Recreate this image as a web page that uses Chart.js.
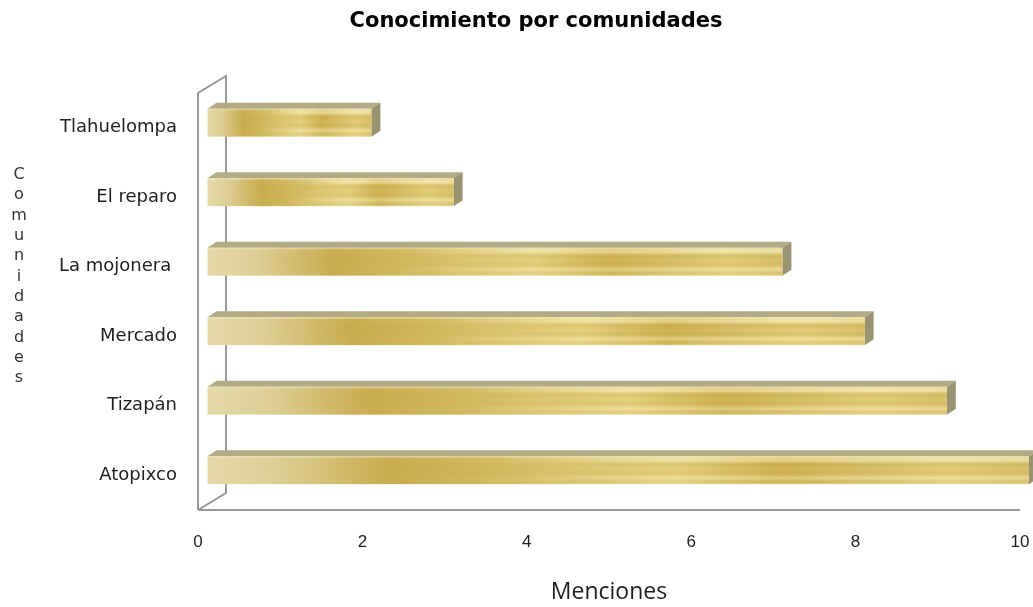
<!DOCTYPE html>
<html>
<head>
<meta charset="utf-8">
<script src="https://cdn.jsdelivr.net/npm/chart.js@4/dist/chart.umd.min.js"></script>
<style>
  html, body { margin: 0; padding: 0; background: #ffffff; }
  #wrap { width: 1033px; height: 607px; }
</style>
</head>
<body>
<div id="wrap"><canvas id="c" width="1033" height="607"></canvas></div>
<script>
// Chart data
const communities = ['Tlahuelompa', 'El reparo', 'La mojonera ', 'Mercado', 'Tizapán', 'Atopixco'];
const mentions = [2, 3, 7, 8, 9, 10];
const valueTicks = [0, 2, 4, 6, 8, 10];
const chartTitle = 'Conocimiento por comunidades';
const valueAxisTitle = 'Menciones';
const categoryAxisTitle = 'Comunidades';

// 3D look: wall depth, bar depth and bar offset from the front plane
const WALL_DX = 28, WALL_DY = 17;
const BAR_SHIFT_X = 9, BAR_SHIFT_Y = 5;
const BAR_DX = 9, BAR_DY = 6;

const TEXT_COLOR = '#1e1e1e';
const LABEL_FONT = '"DejaVu Sans", "Liberation Sans", sans-serif';

function goldFront(ctx, left, top, w, h) {
  // base horizontal sheen across the bar
  const g = ctx.createLinearGradient(left, 0, left + w, 0);
  g.addColorStop(0.00, '#e4d9a8');
  g.addColorStop(0.08, '#ddcf97');
  g.addColorStop(0.22, '#c9ac4e');
  g.addColorStop(0.35, '#d2ba60');
  g.addColorStop(0.50, '#e0cd7e');
  g.addColorStop(0.57, '#e7d88d');
  g.addColorStop(0.70, '#ceb153');
  g.addColorStop(0.80, '#d9c372');
  g.addColorStop(0.90, '#e6d68a');
  g.addColorStop(1.00, '#dbc577');
  ctx.fillStyle = g;
  ctx.fillRect(left, top, w, h);

  // horizontal streaks that fade in toward the right end
  const W = Math.max(1, Math.round(w)), H = Math.max(1, Math.round(h));
  const off = document.createElement('canvas');
  off.width = W; off.height = H;
  const o = off.getContext('2d');
  const v = o.createLinearGradient(0, 0, 0, H);
  v.addColorStop(0.00, 'rgba(250,240,190,0.30)');
  v.addColorStop(0.14, 'rgba(255,248,205,0.55)');
  v.addColorStop(0.28, 'rgba(196,164,64,0.45)');
  v.addColorStop(0.45, 'rgba(214,186,86,0.30)');
  v.addColorStop(0.60, 'rgba(196,164,64,0.40)');
  v.addColorStop(0.78, 'rgba(250,240,185,0.50)');
  v.addColorStop(0.92, 'rgba(205,176,80,0.30)');
  v.addColorStop(1.00, 'rgba(245,235,180,0.40)');
  o.fillStyle = v;
  o.fillRect(0, 0, W, H);
  o.globalCompositeOperation = 'destination-in';
  const m = o.createLinearGradient(0, 0, W, 0);
  m.addColorStop(0.00, 'rgba(0,0,0,0)');
  m.addColorStop(0.35, 'rgba(0,0,0,0.1)');
  m.addColorStop(0.60, 'rgba(0,0,0,0.9)');
  m.addColorStop(1.00, 'rgba(0,0,0,1)');
  o.fillStyle = m;
  o.fillRect(0, 0, W, H);
  ctx.drawImage(off, left, top, w, h);

  // soft light rim along the top edge
  ctx.fillStyle = 'rgba(240,232,195,0.45)';
  ctx.fillRect(left, top, w, 1.5);
}

const box3d = {
  id: 'box3d',
  beforeDatasetsDraw(chart) {
    const {ctx, chartArea: a, scales: {x}} = chart;
    const x0 = x.getPixelForValue(0);
    ctx.save();
    ctx.strokeStyle = '#979797';
    ctx.lineWidth = 2;
    ctx.lineJoin = 'miter';
    // left wall
    ctx.beginPath();
    ctx.moveTo(x0, a.bottom);
    ctx.lineTo(x0, a.top);
    ctx.lineTo(x0 + WALL_DX, a.top - WALL_DY);
    ctx.lineTo(x0 + WALL_DX, a.bottom - WALL_DY);
    ctx.lineTo(x0, a.bottom);
    ctx.stroke();
    // floor front edge
    ctx.beginPath();
    ctx.moveTo(x0, a.bottom);
    ctx.lineTo(x.getPixelForValue(x.max), a.bottom);
    ctx.stroke();
    ctx.restore();
  },
  afterDatasetsDraw(chart) {
    const {ctx} = chart;
    const meta = chart.getDatasetMeta(0);
    ctx.save();
    meta.data.forEach((bar) => {
      const {x, y, base, height} = bar.getProps(['x', 'y', 'base', 'height'], true);
      const left = base + BAR_SHIFT_X;
      const right = x + BAR_SHIFT_X;
      const top = y - BAR_SHIFT_Y - height / 2;
      const bottom = top + height;
      // top face
      ctx.beginPath();
      ctx.moveTo(left, top);
      ctx.lineTo(left + BAR_DX, top - BAR_DY);
      ctx.lineTo(right + BAR_DX, top - BAR_DY);
      ctx.lineTo(right, top);
      ctx.closePath();
      ctx.fillStyle = '#b4ab85';
      ctx.fill();
      // end face
      ctx.beginPath();
      ctx.moveTo(right, top);
      ctx.lineTo(right + BAR_DX, top - BAR_DY);
      ctx.lineTo(right + BAR_DX, bottom - BAR_DY);
      ctx.lineTo(right, bottom);
      ctx.closePath();
      ctx.fillStyle = '#9a9371';
      ctx.fill();
      // front face
      goldFront(ctx, left, top, right - left, height);
    });
    ctx.restore();
  },
  afterDraw(chart) {
    const {ctx} = chart;
    ctx.save();
    // chart title
    ctx.fillStyle = '#000000';
    ctx.font = 'bold 21px "DejaVu Sans"';
    ctx.textAlign = 'center';
    ctx.textBaseline = 'middle';
    ctx.fillText(chartTitle, 536, 22);
    // category axis title, one letter per line
    ctx.fillStyle = '#333333';
    ctx.font = '16px ' + LABEL_FONT;
    Array.from(categoryAxisTitle).forEach((ch, i) => {
      ctx.fillText(ch, 19, 175 + i * 20.3);
    });
    ctx.restore();
  }
};

new Chart(document.getElementById('c'), {
  type: 'bar',
  data: {
    labels: communities,
    datasets: [{
      label: valueAxisTitle,
      data: mentions,
      backgroundColor: 'rgba(0,0,0,0)',
      borderWidth: 0,
      categoryPercentage: 1.0,
      barPercentage: 0.4
    }]
  },
  options: {
    indexAxis: 'y',
    responsive: false,
    animation: false,
    events: [],
    layout: { padding: { left: 0, right: 13, top: 93, bottom: 0 } },
    plugins: {
      legend: { display: false },
      title: { display: false },
      tooltip: { enabled: false }
    },
    scales: {
      x: {
        min: 0,
        max: 10,
        grid: {
          display: true,
          drawOnChartArea: false,
          drawTicks: true,
          tickLength: 21,
          color: 'rgba(0,0,0,0)'
        },
        border: { display: false },
        afterBuildTicks: (s) => { s.ticks = valueTicks.map(v => ({ value: v })); },
        afterFit: (s) => { s.height = 97; },
        ticks: {
          padding: 1,
          color: TEXT_COLOR,
          maxRotation: 0,
          font: { family: '"Liberation Sans", sans-serif', size: 17 }
        },
        title: {
          display: true,
          text: valueAxisTitle,
          color: TEXT_COLOR,
          font: { family: '"Open Sans"', size: 23 },
          padding: { top: 0, bottom: 1 }
        }
      },
      y: {
        grid: { display: false, drawTicks: false },
        border: { display: false },
        afterFit: (s) => { s.width = 198; },
        ticks: {
          padding: 21,
          color: TEXT_COLOR,
          font: { family: LABEL_FONT, size: 18 }
        }
      }
    }
  },
  plugins: [box3d]
});
</script>
</body>
</html>
